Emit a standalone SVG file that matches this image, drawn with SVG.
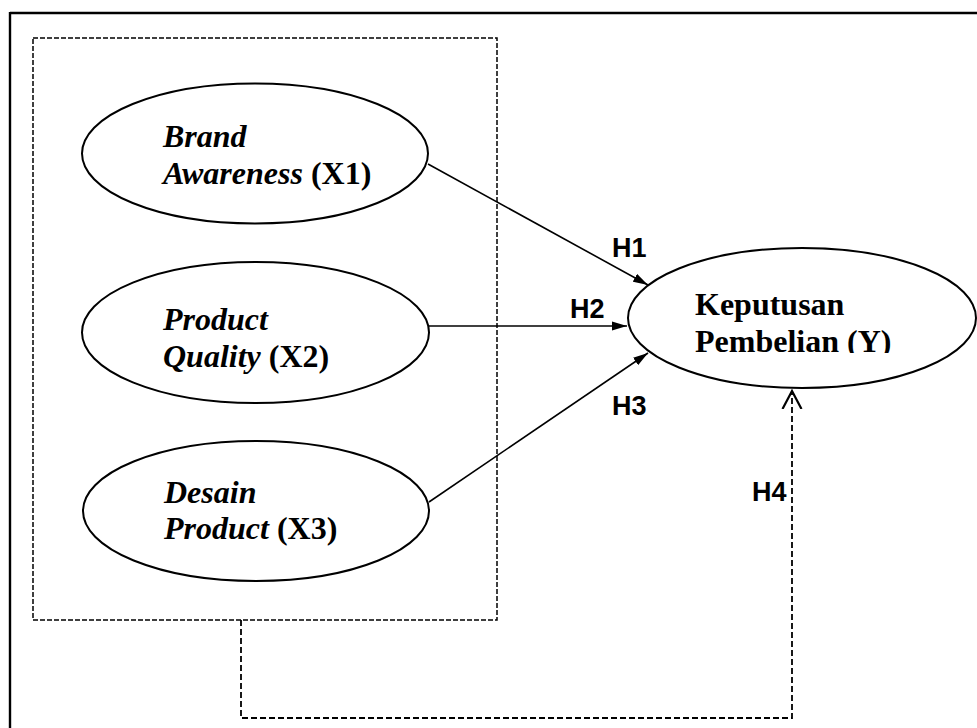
<svg xmlns="http://www.w3.org/2000/svg" width="977" height="728" viewBox="0 0 977 728">
<style>
.node ellipse{fill:#fff;stroke:#000;stroke-width:2}
.lbl{font-family:"Liberation Serif","Times New Roman",serif;font-size:32px;font-weight:bold;fill:#000}
.it{font-style:italic}
.h{font-family:"Liberation Sans",Arial,sans-serif;font-size:27px;font-weight:bold;fill:#000}
.dash{fill:none;stroke:#000;stroke-width:1.5;stroke-dasharray:5 2}
.dash2{fill:none;stroke:#000;stroke-width:1.8;stroke-dasharray:6 3}
.solid{fill:none;stroke:#000;stroke-width:1.6}
</style>
<defs>
<marker id="ah" markerWidth="15" markerHeight="10" refX="15" refY="5" orient="auto" markerUnits="userSpaceOnUse">
<path d="M0,0.5 L15,5 L0,9.5 Z" fill="#000"/>
</marker>
<marker id="oh" markerWidth="20" markerHeight="22" refX="18" refY="11" orient="auto" markerUnits="userSpaceOnUse">
<path d="M0,1.5 L18,11 L0,20.5" fill="none" stroke="#000" stroke-width="2.2"/>
</marker>
<clipPath id="yclip"><rect x="620" y="240" width="357" height="113"/></clipPath>
</defs>
<rect width="977" height="728" fill="#fff"/>
<g id="frame">
<line x1="10" y1="13" x2="977" y2="13" stroke="#000" stroke-width="2.4"/>
<line x1="10" y1="12" x2="10" y2="728" stroke="#000" stroke-width="2.4"/>
<rect id="group-box" class="dash" x="33" y="38" width="464" height="582"/>
</g>
<g id="connectors">
<line class="solid" x1="428" y1="164" x2="648" y2="285" marker-end="url(#ah)"/>
<line class="solid" x1="429" y1="326" x2="627" y2="326" marker-end="url(#ah)"/>
<line class="solid" x1="429" y1="502" x2="648" y2="353" marker-end="url(#ah)"/>
<path class="dash2" d="M241,620 V718 H792 V391" marker-end="url(#oh)"/>
<text class="h" x="612" y="257">H1</text>
<text class="h" x="570" y="318">H2</text>
<text class="h" x="612" y="415">H3</text>
<text class="h" x="752" y="501">H4</text>
</g>
<g id="x1" class="node">
<ellipse cx="255" cy="153.5" rx="173" ry="70"/>
<text class="lbl it" x="163" y="147">Brand</text>
<text class="lbl" x="163" y="184"><tspan class="it">Awareness</tspan> (X1)</text>
</g>
<g id="x2" class="node">
<ellipse cx="255.5" cy="332.5" rx="173.5" ry="70.5"/>
<text class="lbl it" x="163" y="330">Product</text>
<text class="lbl" x="163" y="367"><tspan class="it">Quality</tspan> (X2)</text>
</g>
<g id="x3" class="node">
<ellipse cx="256" cy="511" rx="173" ry="70"/>
<text class="lbl it" x="164" y="503">Desain</text>
<text class="lbl" x="164" y="539"><tspan class="it">Product</tspan> (X3)</text>
</g>
<g id="y" class="node">
<ellipse cx="802" cy="318" rx="174" ry="70"/>
<g clip-path="url(#yclip)">
<text class="lbl" x="695" y="315">Keputusan</text>
<text class="lbl" x="695" y="352">Pembelian (Y)</text>
</g>
</g>
</svg>
